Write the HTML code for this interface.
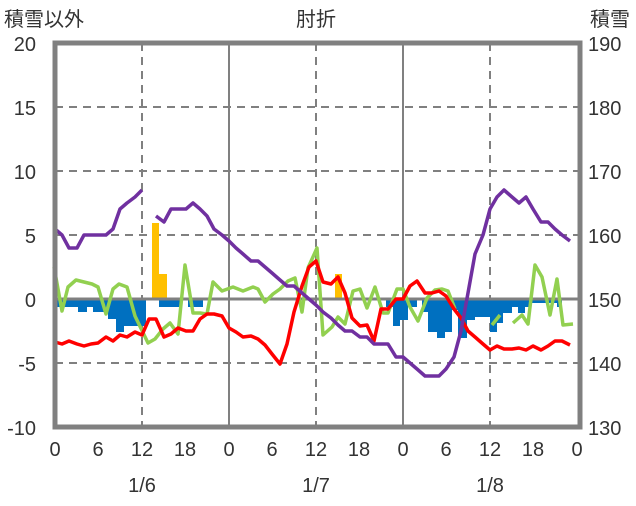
<!DOCTYPE html>
<html><head><meta charset="utf-8"><style>
body{margin:0;background:#fff}
text{font-family:"Liberation Sans","Noto Sans CJK JP",sans-serif;font-size:20px;fill:#333}
</style></head><body>
<svg width="636" height="501" viewBox="0 0 636 501" xmlns="http://www.w3.org/2000/svg">
<g stroke="#808080" stroke-width="2" stroke-dasharray="8,6">
<line x1="55" y1="107" x2="580" y2="107"/><line x1="55" y1="171" x2="580" y2="171"/>
<line x1="55" y1="235" x2="580" y2="235"/><line x1="55" y1="363" x2="580" y2="363"/>
<line x1="142" y1="43" x2="142" y2="427"/><line x1="316" y1="43" x2="316" y2="427"/><line x1="490" y1="43" x2="490" y2="427"/>
</g>
<g stroke="#808080" stroke-width="2">
<line x1="229" y1="43" x2="229" y2="427"/><line x1="403" y1="43" x2="403" y2="427"/>
</g>
<g fill="#ffc000">
<rect x="152" y="223" width="7" height="76"/><rect x="159" y="274" width="8" height="25"/><rect x="335" y="274" width="7" height="25"/>
</g>
<g fill="#0070c0">
<rect x="54" y="299" width="24" height="8"/><rect x="78" y="299" width="9" height="13"/><rect x="87" y="299" width="6" height="8"/>
<rect x="93" y="299" width="15" height="13"/><rect x="108" y="299" width="8" height="20"/><rect x="116" y="299" width="8" height="33"/>
<rect x="124" y="299" width="22" height="27"/><rect x="159" y="299" width="21" height="8"/><rect x="188" y="299" width="15" height="8"/>
<rect x="386" y="299" width="7" height="8"/><rect x="393" y="299" width="7" height="27"/><rect x="400" y="299" width="8" height="21"/><rect x="408" y="299" width="9" height="8"/>
<rect x="422" y="299" width="6" height="13"/><rect x="428" y="299" width="9" height="33"/><rect x="437" y="299" width="8" height="39"/>
<rect x="445" y="299" width="7" height="33"/><rect x="452" y="299" width="6" height="11"/><rect x="458" y="299" width="9" height="39"/>
<rect x="467" y="299" width="8" height="21"/><rect x="475" y="299" width="15" height="18"/><rect x="490" y="299" width="7" height="33"/>
<rect x="497" y="299" width="6" height="24"/><rect x="503" y="299" width="9" height="14"/><rect x="512" y="299" width="6" height="8"/>
<rect x="518" y="299" width="7" height="14"/><rect x="525" y="299" width="5" height="8"/><rect x="530" y="299" width="27" height="4"/><rect x="557" y="299" width="5" height="8"/>
</g>
<line x1="55" y1="299" x2="580" y2="299" stroke="#808080" stroke-width="3"/>
<g fill="none" stroke-width="3.5" stroke-linejoin="round">
<polyline stroke="#92d050" points="54,267 62,311 68,287 76,280 84,282 92,284 98,287 106,314 113,289 119,284 127,287 135,316 148,343 155,339 163,329 170,323 178,334 185,265 193,313 200,313 207,314 213,282 222,291 233,287 243,291 253,287 258,289 265,302 273,294 280,289 288,281 295,278 302,312 308,268 317,248 323,335 332,327 338,317 345,324 353,291 360,289 367,308 375,287 383,313 388,313 397,289 403,289 410,307 418,321 427,298 435,290 442,289 448,291 455,309"/>
<polyline stroke="#92d050" points="492,325 500,315"/>
<polyline stroke="#92d050" points="513,323 522,315 528,324 535,265 542,277 550,315 557,279 563,325 573,324"/>
<polyline stroke="#ff0000" points="55,342 62,344 69,341 77,344 84,346 91,344 98,343 106,337 113,341 120,335 127,337 135,332 142,335 149,319 156,319 164,337 171,334 178,328 186,331 193,331 200,319 207,314 214,314 222,316 229,328 236,332 243,337 251,336 258,339 265,345 272,354 280,364 287,344 294,312 302,286 309,267 316,261 323,282 331,284 338,277 345,293 352,318 360,326 367,325 374,341 381,309 388,309 396,299 403,299 410,286 417,281 425,293 432,293 439,291 446,296 454,309 461,318 468,331 475,337 483,344 490,350 497,346 504,349 512,349 519,348 526,350 533,346 541,350 548,346 555,341 562,341 570,345"/>
<polyline stroke="#7030a0" points="55,229 62,235 69,248 77,248 84,235 91,235 98,235 106,235 113,229 120,209 127,203 135,197 142,190"/>
<polyline stroke="#7030a0" points="156,216 164,222 171,209 178,209 186,209 193,203 200,209 207,216 214,229 222,235 229,241 236,248 243,254 251,261 258,261 265,267 272,273 280,280 287,286 294,286 302,293 309,299 316,305 323,312 331,318 338,325 345,331 352,331 360,337 367,337 374,344 381,344 388,344 396,357 403,357 410,363 417,369 425,376 432,376 439,376 446,369 454,357 461,331 468,293 475,254 483,235 490,209 497,197 504,190 512,197 519,203 526,197 533,209 541,222 548,222 555,229 562,235 570,241"/>
</g>
<rect x="55" y="43" width="525" height="384" fill="none" stroke="#808080" stroke-width="5"/>
<g text-anchor="end">
<text x="36" y="51">20</text><text x="36" y="115">15</text><text x="36" y="179">10</text><text x="36" y="243">5</text>
<text x="36" y="307">0</text><text x="36" y="371">-5</text><text x="36" y="435">-10</text>
</g>
<g>
<text x="588" y="51">190</text><text x="588" y="115">180</text><text x="588" y="179">170</text><text x="588" y="243">160</text>
<text x="588" y="307">150</text><text x="588" y="371">140</text><text x="588" y="435">130</text>
</g>
<g text-anchor="middle">
<text x="55" y="456">0</text><text x="98" y="456">6</text><text x="142" y="456">12</text><text x="185" y="456">18</text>
<text x="229" y="456">0</text><text x="272" y="456">6</text><text x="316" y="456">12</text><text x="359" y="456">18</text>
<text x="403" y="456">0</text><text x="446" y="456">6</text><text x="490" y="456">12</text><text x="533" y="456">18</text><text x="577" y="456">0</text>
<text x="142" y="492">1/6</text><text x="316" y="492">1/7</text><text x="490" y="492">1/8</text>
<text x="316" y="26">肘折</text>
</g>
<text x="4" y="26">積雪以外</text>
<text x="590" y="26">積雪</text>
</svg>
</body></html>
